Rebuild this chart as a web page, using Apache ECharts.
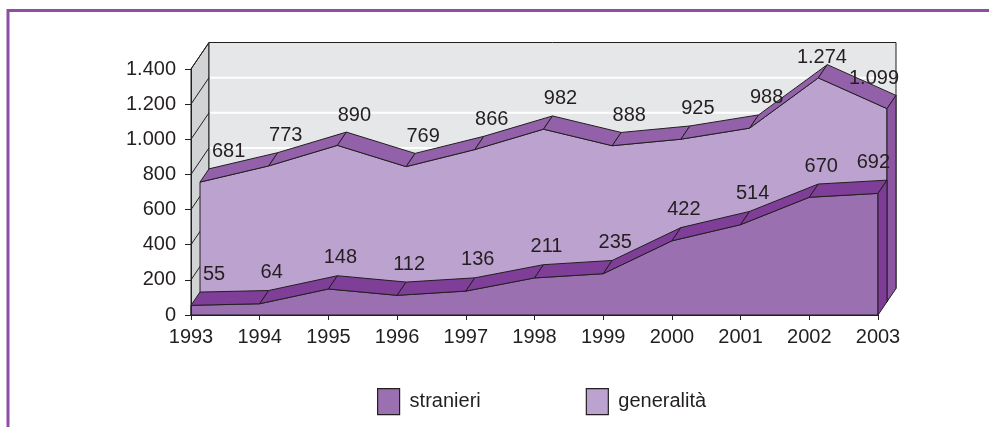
<!DOCTYPE html>
<html>
<head>
<meta charset="utf-8">
<script src="https://cdn.jsdelivr.net/npm/echarts@6/dist/echarts.min.js"></script>
<style>
html, body { margin: 0; padding: 0; background: #fff; }
#chart { width: 989px; height: 427px; }
</style>
</head>
<body>
<div id="chart"></div>
<script>
const years = ['1993', '1994', '1995', '1996', '1997', '1998', '1999', '2000', '2001', '2002', '2003']
const stranieri = [55, 64, 148, 112, 136, 211, 235, 422, 514, 670, 692]
const generalita = [681, 773, 890, 769, 866, 982, 888, 925, 988, 1274, 1099]
const yMax = 1400
const yStep = 200

const FONT = '"Liberation Sans", Arial, Helvetica, sans-serif'
const INK = '#231f20'
// screen offset of the back of the box (3d depth)
const DEPTH = [18, -26.5]

const measure = document.createElement('canvas').getContext('2d')
measure.font = '20px ' + FONT

function fmt(v) {
  return String(v).replace(/\B(?=(\d{3})+(?!\d))/g, '.')
}

function shift(p, d) {
  return [p[0] + DEPTH[0] * d, p[1] + DEPTH[1] * d]
}

// label boxes for one series, kept inside the plot and apart from each other
function labelBoxes(api, vals, d1, dx, dy) {
  const n = vals.length
  const minX = shift(api.coord([0, 0]), d1)[0] + 3
  const maxX = shift(api.coord([n - 1, 0]), d1)[0] + 3
  const minY = shift(api.coord([0, yMax]), 1)[1] + 15
  const boxes = vals.map((v, i) => {
    const b = shift(api.coord([i, v]), d1)
    const text = fmt(v)
    const w = measure.measureText(text).width
    let cx = b[0] + dx
    cx = Math.max(cx, minX + w / 2)
    cx = Math.min(cx, maxX - w / 2)
    const cy = Math.max(b[1] + dy, minY)
    return { text, w, cx, cy }
  })
  for (let i = n - 2; i >= 0; i--) {
    const a = boxes[i]
    const b = boxes[i + 1]
    if (Math.abs(a.cy - b.cy) < 24 && a.cx + a.w / 2 > b.cx - b.w / 2 - 2) {
      a.cx = b.cx - b.w / 2 - 2 - a.w / 2
    }
  }
  return boxes
}

function areaSeries(name, vals, d0, d1, colors, lab, z) {
  return {
    type: 'custom',
    name: name,
    z: z,
    clip: false,
    silent: true,
    itemStyle: { color: colors.face },
    encode: { x: 0, y: 1 },
    data: vals.map((v, i) => [i, v]),
    renderItem: function (params, api) {
      const i = params.dataIndex
      const n = vals.length
      const children = []
      const edge = { stroke: INK, lineWidth: 1, lineJoin: 'round' }
      if (i === 0) {
        const pts = vals.map((v, j) => shift(api.coord([j, v]), d0))
        pts.push(shift(api.coord([n - 1, 0]), d0), shift(api.coord([0, 0]), d0))
        children.push({
          type: 'polygon', z2: 1,
          shape: { points: pts },
          style: Object.assign({ fill: colors.face }, edge)
        })
      }
      const a = api.coord([i, api.value(1)])
      if (i < n - 1) {
        const b = api.coord([i + 1, vals[i + 1]])
        children.push({
          type: 'polygon', z2: 2,
          shape: { points: [shift(a, d0), shift(b, d0), shift(b, d1), shift(a, d1)] },
          style: Object.assign({ fill: colors.band }, edge)
        })
      } else {
        const bot = api.coord([i, 0])
        children.push({
          type: 'polygon', z2: 2,
          shape: { points: [shift(a, d0), shift(a, d1), shift(bot, d1), shift(bot, d0)] },
          style: Object.assign({ fill: colors.side }, edge)
        })
      }
      const box = labelBoxes(api, vals, d1, lab[0], lab[1])[i]
      children.push({
        type: 'text', z2: 10,
        style: {
          text: box.text, x: box.cx, y: box.cy,
          align: 'center', verticalAlign: 'middle',
          font: '20px ' + FONT, fill: INK
        }
      })
      return { type: 'group', children: children }
    }
  }
}

const wallSeries = {
  type: 'custom',
  z: 1,
  clip: false,
  silent: true,
  data: [[0, 0]],
  renderItem: function (params, api) {
    const n = years.length
    const f0 = api.coord([0, 0])
    const f1 = api.coord([0, yMax])
    const r0 = api.coord([n - 1, 0])
    const r1 = api.coord([n - 1, yMax])
    const children = [
      {
        type: 'polygon',
        shape: { points: [f0, f1, shift(f1, 1), shift(f0, 1)] },
        style: { fill: '#d1d3d4', stroke: INK, lineWidth: 1 }
      },
      {
        type: 'polygon',
        shape: { points: [shift(f0, 1), shift(r0, 1), shift(r1, 1), shift(f1, 1)] },
        style: { fill: '#e6e7e8', stroke: INK, lineWidth: 1 }
      }
    ]
    for (let v = yStep; v < yMax; v += yStep) {
      const p = shift(api.coord([0, v]), 1)
      const q = shift(api.coord([n - 1, v]), 1)
      children.push({
        type: 'line', z2: 1,
        shape: { x1: p[0] + 1, y1: p[1], x2: q[0] - 1, y2: q[1] },
        style: { stroke: '#ffffff', lineWidth: 2 }
      })
    }
    for (let v = 0; v <= yMax; v += yStep) {
      const p = api.coord([0, v])
      const q = shift(p, 1)
      children.push({
        type: 'line', z2: 2,
        shape: { x1: p[0], y1: p[1], x2: q[0], y2: q[1] },
        style: { stroke: INK, lineWidth: 1 }
      })
    }
    return { type: 'group', children: children }
  }
}

const chart = echarts.init(document.getElementById('chart'))

chart.setOption({
  animation: false,
  backgroundColor: '#ffffff',
  grid: { left: 191, top: 69, width: 687, bottom: 112 },
  xAxis: {
    type: 'category',
    data: years,
    boundaryGap: false,
    z: 10,
    axisLine: { lineStyle: { color: INK, width: 1 } },
    axisTick: { length: 5, interval: 0, lineStyle: { color: INK } },
    axisLabel: { interval: 0, margin: 12, fontSize: 20, fontFamily: FONT, color: INK },
    splitLine: { show: false }
  },
  yAxis: {
    type: 'value',
    min: 0,
    max: yMax,
    interval: yStep,
    z: 10,
    axisLine: { show: true, lineStyle: { color: INK, width: 1 } },
    axisTick: { show: true, length: 6, lineStyle: { color: INK } },
    axisLabel: { margin: 15, fontSize: 20, fontFamily: FONT, color: INK, formatter: fmt },
    splitLine: { show: false }
  },
  legend: {
    data: ['stranieri', 'generalità'],
    left: 372,
    top: 383,
    icon: 'rect',
    itemWidth: 22,
    itemHeight: 26,
    itemGap: 105,
    itemStyle: { borderColor: INK, borderWidth: 1.2 },
    textStyle: { fontFamily: FONT, fontSize: 20, color: INK, padding: [0, 0, 0, 5] }
  },
  graphic: [
    { type: 'line', shape: { x1: 7, y1: 10.5, x2: 989, y2: 10.5 }, style: { stroke: '#8e4ea6', lineWidth: 3 } },
    { type: 'line', shape: { x1: 8, y1: 9, x2: 8, y2: 427 }, style: { stroke: '#8e4ea6', lineWidth: 3 } }
  ],
  series: [
    wallSeries,
    areaSeries('generalità', generalita, 0.5, 1,
      { face: '#bca2ce', band: '#9361aa', side: '#8c56a3' }, [8, -17], 2),
    areaSeries('stranieri', stranieri, 0, 0.5,
      { face: '#9a70b0', band: '#7f3f98', side: '#7d3d96' }, [3, -18], 3)
  ]
})

window.addEventListener('resize', () => chart.resize())
</script>
</body>
</html>
